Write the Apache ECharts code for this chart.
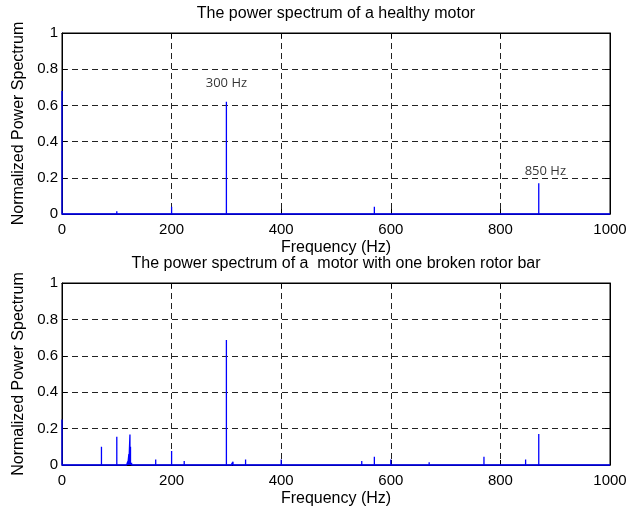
<!DOCTYPE html>
<html>
<head>
<meta charset="utf-8">
<script src="https://cdn.jsdelivr.net/npm/echarts@6/dist/echarts.min.js"></script>
<style>html,body{margin:0;padding:0;background:#fff;}#c{width:631px;height:515px;}</style>
</head>
<body>
<div id="c"></div>
<script>
// ---- data ----
var titles = ['The power spectrum of a healthy motor', 'The power spectrum of a  motor with one broken rotor bar'];
var xName = 'Frequency (Hz)';
var yName = 'Normalized Power Spectrum';
var xTicks = [0, 200, 400, 600, 800, 1000];
var yTicks = [0, 0.2, 0.4, 0.6, 0.8, 1];

// healthy motor: peak frequencies (Hz) and normalized power
var healthyFreq = [0, 72, 100, 124, 171, 200, 277, 300, 310, 335, 358, 547, 570, 770, 870];
var healthyVal  = [0.68, 0.005, 0.015, 0.01, 0.004, 0.04, 0.004, 0.62, 0.008, 0.005, 0.005, 0.005, 0.04, 0.005, 0.17];

// broken rotor bar motor
var brokenFreq = [0, 23, 49, 72, 74, 100, 118, 120, 122, 124, 125, 127, 171, 173, 200, 218, 223, 225, 300, 310, 312, 322, 335, 358, 400, 470, 547, 550, 570, 575, 596, 600, 670, 770, 838, 846, 848, 870, 896];
var brokenVal  = [0.25, 0.004, 0.004, 0.1, 0.01, 0.155, 0.01, 0.02, 0.06, 0.168, 0.1, 0.012, 0.03, 0.01, 0.077, 0.006, 0.022, 0.01, 0.687, 0.012, 0.018, 0.006, 0.03, 0.005, 0.03, 0.005, 0.022, 0.006, 0.046, 0.01, 0.01, 0.03, 0.015, 0.046, 0.01, 0.03, 0.01, 0.17, 0.005];

// annotations on the healthy spectrum
var annotText = ['300 Hz', '850 Hz'];
var annotFreq = [300, 882];
var annotVal  = [0.72, 0.237];

// ---- build ----
function stems(freq, val) {
  var d = [];
  for (var i = 0; i < freq.length; i++) {
    d.push([freq[i], 0]); d.push([freq[i], val[i]]); d.push([freq[i], 0]);
  }
  d.push([xTicks[xTicks.length - 1], 0]);
  return d;
}

var F = 'Liberation Sans';
var grids = [
  {left: 62, top: 33, width: 548, height: 181},
  {left: 62, top: 283, width: 548, height: 182}
];
grids.forEach(function (g) { g.show = true; g.borderColor = '#000'; g.borderWidth = 1; g.backgroundColor = '#fff'; g.containLabel = false; });

var xAxes = [], yAxes = [];
var xMin = xTicks[0], xMax = xTicks[xTicks.length - 1], xInt = xTicks[1] - xTicks[0];
var yMin = yTicks[0], yMax = yTicks[yTicks.length - 1], yInt = yTicks[1] - yTicks[0];
for (var gi = 0; gi < 2; gi++) {
  xAxes.push({
    gridIndex: gi, type: 'value', min: xMin, max: xMax, interval: xInt, position: 'bottom',
    axisLine: {show: true, onZero: false, lineStyle: {color: '#000', width: 1}},
    axisTick: {show: true, inside: true, length: 5, lineStyle: {color: '#000'}},
    axisLabel: {color: '#000', fontSize: 15, fontFamily: F, margin: 8,
      formatter: function (v) { return String(v); }},
    splitLine: {show: true, lineStyle: {color: '#222', width: 1, type: [6, 4]}},
    name: xName, nameLocation: 'middle', nameGap: 26,
    nameTextStyle: {color: '#000', fontSize: 16, fontFamily: F}
  });
  xAxes.push({
    gridIndex: gi, type: 'value', min: xMin, max: xMax, interval: xInt, position: 'top',
    axisLine: {show: true, onZero: false, lineStyle: {color: '#000', width: 1}},
    axisTick: {show: true, inside: true, length: 5, lineStyle: {color: '#000'}},
    axisLabel: {show: false}, splitLine: {show: false}
  });
  yAxes.push({
    gridIndex: gi, type: 'value', min: yMin, max: yMax, interval: yInt, position: 'left',
    axisLine: {show: true, onZero: false, lineStyle: {color: '#000', width: 1}},
    axisTick: {show: true, inside: true, length: 5, lineStyle: {color: '#000'}},
    axisLabel: {color: '#000', fontSize: 15, fontFamily: F, margin: 4,
      formatter: function (v) { return String(Math.round(v * 10) / 10); }},
    splitLine: {show: true, lineStyle: {color: '#222', width: 1, type: [6, 4]}},
    name: yName, nameLocation: 'middle', nameGap: 35,
    nameTextStyle: {color: '#000', fontSize: 16, fontFamily: F}
  });
  yAxes.push({
    gridIndex: gi, type: 'value', min: yMin, max: yMax, interval: yInt, position: 'right',
    axisLine: {show: true, onZero: false, lineStyle: {color: '#000', width: 1}},
    axisTick: {show: true, inside: true, length: 5, lineStyle: {color: '#000'}},
    axisLabel: {show: false}, splitLine: {show: false}
  });
}

var annotData = annotText.map(function (t, i) { return {name: t, value: [annotFreq[i], annotVal[i]]}; });

var option = {
  animation: false,
  backgroundColor: '#fff',
  title: [
    {text: titles[0], left: 336, top: 6, textAlign: 'center', padding: 0,
     textStyle: {color: '#000', fontSize: 16, fontWeight: 'normal', fontFamily: F}},
    {text: titles[1], left: 336, top: 256, textAlign: 'center', padding: 0,
     textStyle: {color: '#000', fontSize: 16, fontWeight: 'normal', fontFamily: F}}
  ],
  grid: grids,
  xAxis: xAxes,
  yAxis: yAxes,
  series: [
    {type: 'line', xAxisIndex: 0, yAxisIndex: 0, data: stems(healthyFreq, healthyVal), clip: false,
     showSymbol: false, symbol: 'none', lineStyle: {color: '#0000ff', width: 1.3}, z: 10},
    {type: 'line', xAxisIndex: 2, yAxisIndex: 2, data: stems(brokenFreq, brokenVal), clip: false,
     showSymbol: false, symbol: 'none', lineStyle: {color: '#0000ff', width: 1.3}, z: 10},
    {type: 'scatter', xAxisIndex: 0, yAxisIndex: 0, data: annotData, symbolSize: 0,
     label: {show: true, position: 'inside', formatter: '{b}', color: '#000', fontSize: 13, fontFamily: 'Open Sans'}, z: 11}
  ]
};
var chart = echarts.init(document.getElementById('c'), null, {renderer: 'canvas'});
chart.setOption(option);
</script>
</body>
</html>
